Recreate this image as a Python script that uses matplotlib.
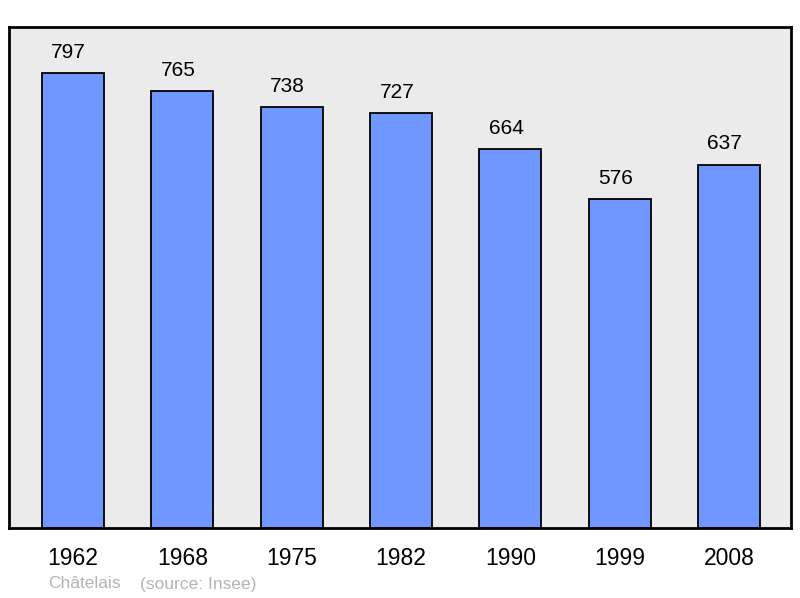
import matplotlib
matplotlib.use("Agg")
import matplotlib.pyplot as plt

years = ["1962", "1968", "1975", "1982", "1990", "1999", "2008"]
population = [797, 765, 738, 727, 664, 576, 637]

plt.rcParams['font.family'] = ['Liberation Sans', 'DejaVu Sans']

fig = plt.figure(figsize=(8, 5.98), dpi=100)
W, H = 800, 598
ax = fig.add_axes([9 / W, 1 - 528 / H, (791 - 9) / W, (528 - 27) / H])
ax.set_facecolor("#ebebeb")

x = list(range(len(years)))
ax.bar(x, population, width=0.567, color="#7096ff", edgecolor="black", linewidth=1.3, zorder=2)
for xi, v in zip(x, population):
    ax.annotate(str(v), (xi, v), xytext=(-3, 8), textcoords="offset points",
                ha="center", va="bottom", fontsize=15, color="black")

ax.set_xlim(-0.585, 6.567)
ax.set_ylim(0, 878)
ax.set_yticks([])
ax.set_xticks(x)
ax.set_xticklabels(years, fontsize=16.5)
ax.tick_params(axis="x", length=0, pad=14)
for s in ax.spines.values():
    s.set_linewidth(2)
    s.set_color("black")

fig.text(48 / W, 1 - 584 / H, "Châtelais", fontsize=12.5, color="#b4b4b4", va="center", ha="left")
fig.text(140 / W, 1 - 584 / H, "(source: Insee)", fontsize=12.5, color="#b4b4b4", va="center", ha="left")

fig.savefig("out.png", dpi=100)
